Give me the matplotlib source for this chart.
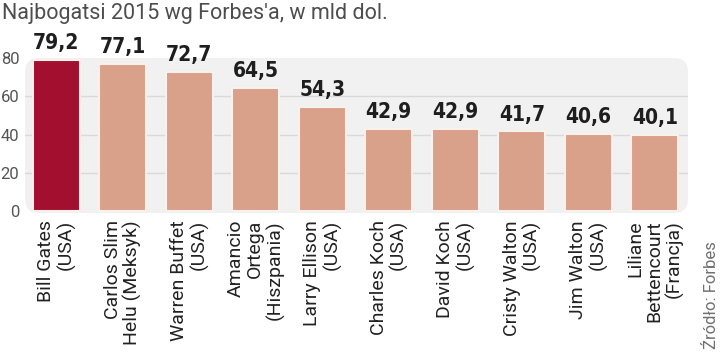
import matplotlib
matplotlib.use("Agg")
import matplotlib.pyplot as plt
from matplotlib.patches import FancyBboxPatch

names = ["Bill Gates\n(USA)", "Carlos Slim\nHelu (Meksyk)", "Warren Buffet\n(USA)",
         "Amancio\nOrtega\n(Hiszpania)", "Larry Ellison\n(USA)", "Charles Koch\n(USA)",
         "David Koch\n(USA)", "Cristy Walton\n(USA)", "Jim Walton\n(USA)",
         "Liliane\nBettencourt\n(Francja)"]
values = [79.2, 77.1, 72.7, 64.5, 54.3, 42.9, 42.9, 41.7, 40.6, 40.1]
value_labels = ["79,2", "77,1", "72,7", "64,5", "54,3", "42,9", "42,9", "41,7", "40,6", "40,1"]
yticks = [0, 20, 40, 60, 80]
title = "Najbogatsi 2015 wg Forbes'a, w mld dol."
source = "Źródło: Forbes"

fig = plt.figure(figsize=(7.2, 3.52), dpi=100)
fig.patch.set_facecolor("white")

W, H = 720, 352
ax_l, ax_b, ax_w, ax_h = 25/W, (H-213)/H, (688-25)/W, (213-58)/H
ax = fig.add_axes([ax_l, ax_b, ax_w, ax_h])
ax.set_facecolor("none")

# rounded background panel
bg = FancyBboxPatch((ax_l, ax_b), ax_w, ax_h,
                    boxstyle="round,pad=0,rounding_size=%f" % (14/W),
                    mutation_aspect=W/H, transform=fig.transFigure,
                    facecolor="#f1f1f1", edgecolor="none", zorder=0, clip_on=False)
ax.add_patch(bg)

x = list(range(len(values)))
colors = ["#a30f2e"] + ["#d9a08a"] * (len(values) - 1)
ax.bar(x, values, width=0.71, color=colors, edgecolor="#faf0ec", linewidth=1.5, zorder=3)

for xi, v, lab in zip(x, values, value_labels):
    ax.annotate(lab, (xi, v), xytext=(0, 5), textcoords="offset points",
                ha="center", va="bottom", fontsize=15, fontweight="bold",
                fontstretch="condensed", family=["DejaVu Sans"], color="#1e1e1e",
                annotation_clip=False)

for g in [20, 40, 60]:
    ax.axhline(g, color="#d9d9d9", linewidth=1.0, zorder=1)

ax.set_xlim(-0.47, 9.5)
ax.set_ylim(-0.8, 79.6)
ax.set_yticks(yticks)
ax.set_yticklabels([str(t) for t in yticks], fontsize=12, color="#555555",
                   family=["Roboto"])
ax.tick_params(axis="y", length=0, pad=4)
ax.set_xticks(x)
ax.set_xticklabels(names, rotation=90, fontsize=14, color="#222222",
                   family=["Roboto"], ha="center", va="top",
                   multialignment="right", linespacing=1.08)
ax.tick_params(axis="x", length=0, pad=5)
for s in ax.spines.values():
    s.set_visible(False)

fig.text(2/W, 1 - 14/H, title, fontsize=15.5, color="#4d4d4d",
         family=["Roboto"], ha="left", va="center")
fig.text(711/W, 3/H, source, rotation=90, fontsize=12, color="#707070",
         family=["Roboto"], ha="center", va="bottom")

fig.savefig("out.png", dpi=100, facecolor="white")
